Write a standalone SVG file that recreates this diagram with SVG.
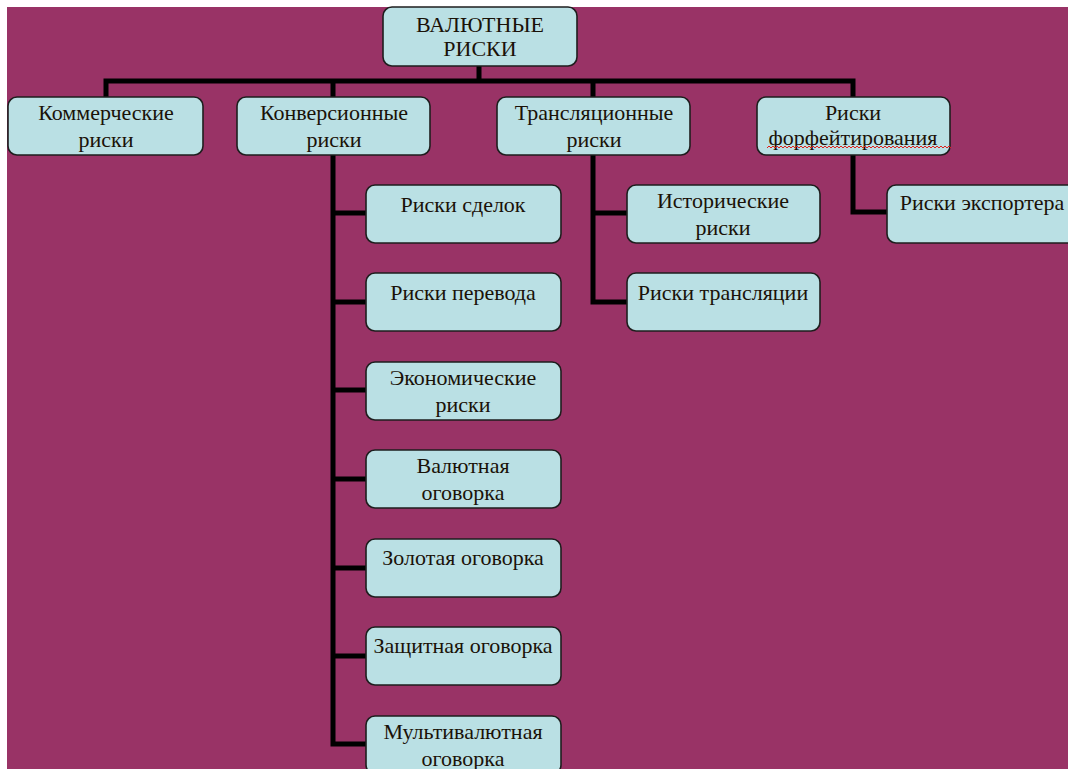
<svg xmlns="http://www.w3.org/2000/svg" width="1068" height="769" viewBox="0 0 1068 769">
<defs>
<style>
.bg{fill:#993366}
.box{fill:#BAE0E4;stroke:#1e1e1e;stroke-width:1.6}
.t{font-family:"Liberation Serif","Times New Roman",serif;font-size:22px;fill:#1a1208;text-anchor:middle}
.c{fill:none;stroke:#000;stroke-width:5;stroke-linejoin:miter;stroke-linecap:square}
.sq{fill:none;stroke:#e0201c;stroke-width:1}
</style>
</defs>
<rect width="1068" height="769" fill="#ffffff"/>
<rect class="bg" x="7" y="7" width="1061" height="762"/>
<g id="connectors">
<path class="c" d="M479,66 V81 M106,97 V81 H853 V97 M333,81 V97 M593,81 V97"/>
<path class="c" d="M333,155 V744 M333,213 H366 M333,302 H366 M333,390 H366 M333,479 H366 M333,568 H366 M333,656 H366 M333,744 H366"/>
<path class="c" d="M593,155 V302 H627 M593,213 H627"/>
<path class="c" d="M853,155 V212 H887"/>
</g>
<g id="root"><rect class="box" x="383" y="7" width="194" height="59" rx="9"/><text class="t" x="480" y="32">ВАЛЮТНЫЕ</text><text class="t" x="480" y="56">РИСКИ</text></g>
<g id="kommercheskie"><rect class="box" x="8" y="97" width="195" height="58" rx="9"/><text class="t" x="106" y="120">Коммерческие</text><text class="t" x="106" y="147">риски</text></g>
<g id="konversionnye"><rect class="box" x="237" y="97" width="193" height="58" rx="9"/><text class="t" x="334" y="120">Конверсионные</text><text class="t" x="334" y="147">риски</text></g>
<g id="translyatsionnye"><rect class="box" x="497" y="97" width="193" height="58" rx="9"/><text class="t" x="594" y="120">Трансляционные</text><text class="t" x="594" y="147">риски</text></g>
<g id="forfeiting"><rect class="box" x="757" y="97" width="193" height="58" rx="9"/><text class="t" x="853" y="120">Риски</text><text class="t" x="853" y="145">форфейтирования</text><path class="sq" d="M767,148 l2,-2 l2,2 l2,-2 l2,2 l2,-2 l2,2 l2,-2 l2,2 l2,-2 l2,2 l2,-2 l2,2 l2,-2 l2,2 l2,-2 l2,2 l2,-2 l2,2 l2,-2 l2,2 l2,-2 l2,2 l2,-2 l2,2 l2,-2 l2,2 l2,-2 l2,2 l2,-2 l2,2 l2,-2 l2,2 l2,-2 l2,2 l2,-2 l2,2 l2,-2 l2,2 l2,-2 l2,2 l2,-2 l2,2 l2,-2 l2,2 l2,-2 l2,2 l2,-2 l2,2 l2,-2 l2,2 l2,-2 l2,2 l2,-2 l2,2 l2,-2 l2,2 l2,-2 l2,2 l2,-2 l2,2 l2,-2 l2,2 l2,-2 l2,2 l2,-2 l2,2 l2,-2 l2,2 l2,-2 l2,2 l2,-2 l2,2 l2,-2 l2,2 l2,-2 l2,2 l2,-2 l2,2 l2,-2 l2,2 l2,-2 l2,2 l2,-2 l2,2 l2,-2 l2,2 l2,-2 l2,2 l2,-2 l2,2 l2,-2 l2,2"/></g>
<g id="riski-sdelok"><rect class="box" x="366" y="185" width="195" height="58" rx="9"/><text class="t" x="463" y="212">Риски сделок</text></g>
<g id="riski-perevoda"><rect class="box" x="366" y="273" width="195" height="58" rx="9"/><text class="t" x="463" y="300">Риски перевода</text></g>
<g id="ekonomicheskie"><rect class="box" x="366" y="362" width="195" height="58" rx="9"/><text class="t" x="463" y="385">Экономические</text><text class="t" x="463" y="412">риски</text></g>
<g id="valyutnaya"><rect class="box" x="366" y="450" width="195" height="58" rx="9"/><text class="t" x="463" y="473">Валютная</text><text class="t" x="463" y="500">оговорка</text></g>
<g id="zolotaya"><rect class="box" x="366" y="539" width="195" height="58" rx="9"/><text class="t" x="463" y="565">Золотая оговорка</text></g>
<g id="zashchitnaya"><rect class="box" x="366" y="627" width="195" height="58" rx="9"/><text class="t" x="463" y="653">Защитная оговорка</text></g>
<g id="multivalyutnaya"><rect class="box" x="366" y="716" width="195" height="58" rx="9"/><text class="t" x="463" y="739">Мультивалютная</text><text class="t" x="463" y="766">оговорка</text></g>
<g id="istoricheskie"><rect class="box" x="627" y="185" width="193" height="58" rx="9"/><text class="t" x="723" y="208">Исторические</text><text class="t" x="723" y="235">риски</text></g>
<g id="riski-translyatsii"><rect class="box" x="627" y="273" width="193" height="58" rx="9"/><text class="t" x="723" y="300">Риски трансляции</text></g>
<g id="riski-eksportera"><rect class="box" x="887" y="185" width="195" height="58" rx="9"/><text class="t" x="982" y="210">Риски экспортера</text></g>
</svg>
